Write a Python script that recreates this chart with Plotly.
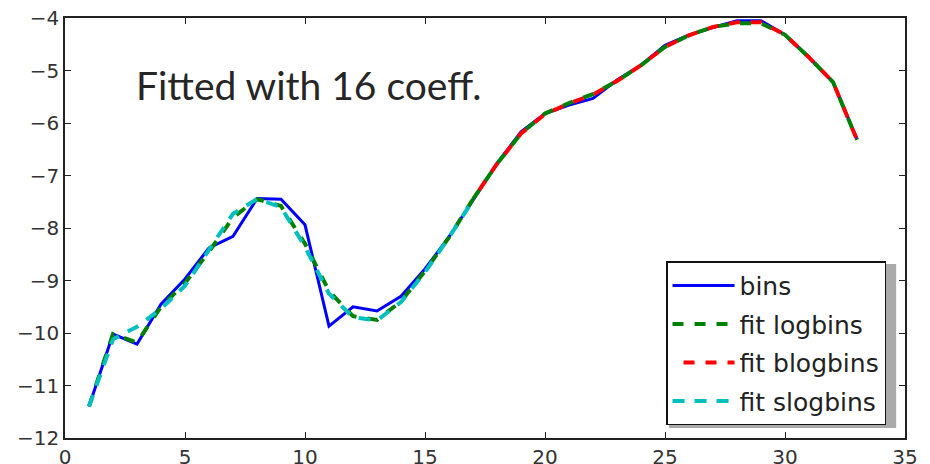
import plotly.graph_objects as go

x_bins = list(range(1, 34))
bins = [-11.40, -10.02, -10.21, -9.45, -8.97, -8.38, -8.16, -7.44, -7.45, -7.94,
        -9.87, -9.50, -9.58, -9.30, -8.78, -8.17, -7.47, -6.77, -6.17, -5.82,
        -5.66, -5.53, -5.18, -4.90, -4.52, -4.32, -4.18, -4.05, -4.05, -4.32,
        -4.75, -5.22, -6.31]

x_log = list(range(1, 34))
fit_logbins = [-11.40, -10.02, -10.18, -9.50, -9.05, -8.45, -7.80, -7.45, -7.58, -8.30,
               -9.20, -9.68, -9.75, -9.40, -8.82, -8.18, -7.45, -6.78, -6.20, -5.82,
               -5.62, -5.45, -5.20, -4.90, -4.55, -4.33, -4.17, -4.10, -4.10, -4.32,
               -4.75, -5.22, -6.32]

x_blog = list(range(17, 34))
fit_blogbins = [-7.45, -6.78, -6.20, -5.83, -5.63, -5.46, -5.20, -4.90, -4.55, -4.33,
                -4.17, -4.08, -4.08, -4.32, -4.75, -5.22, -6.32]

x_slog = list(range(1, 18))
fit_slogbins = [-11.40, -10.12, -9.88, -9.54, -9.10, -8.43, -7.73, -7.45, -7.60, -8.36,
                -9.25, -9.70, -9.76, -9.41, -8.84, -8.18, -7.47]

x_ticks = [0, 5, 10, 15, 20, 25, 30, 35]
y_ticks = [-12, -11, -10, -9, -8, -7, -6, -5, -4]
y_ticktext = ["\u2212" + str(abs(v)) for v in y_ticks]

split = x_log.index(x_blog[0])

fig = go.Figure()
fig.add_trace(go.Scatter(x=x_bins, y=bins, mode="lines", name="bins",
                         line=dict(color="#0000ff", width=3), legendgroup="a"))
fig.add_trace(go.Scatter(x=x_log[:split + 1], y=fit_logbins[:split + 1], mode="lines",
                         name="fit logbins",
                         line=dict(color="#008000", width=4, dash="11px,11px"), legendgroup="b"))
fig.add_trace(go.Scatter(x=x_log[split:], y=fit_logbins[split:], mode="lines",
                         name="fit logbins", showlegend=False,
                         line=dict(color="#008000", width=4, dash="11px,11px"), legendgroup="b"))
fig.add_trace(go.Scatter(x=x_blog, y=fit_blogbins, mode="lines", name="fit blogbins",
                         line=dict(color="#ff0000", width=4, dash="0px,11px,11px,0px"),
                         legendgroup="c"))
fig.add_trace(go.Scatter(x=x_slog, y=fit_slogbins, mode="lines", name="fit slogbins",
                         line=dict(color="#00bfbf", width=4, dash="12px,10px"), legendgroup="d"))

axis_common = dict(showgrid=False, zeroline=False, showline=True, linecolor="#222",
                   linewidth=1.5, mirror="ticks", ticks="inside", ticklen=6,
                   tickcolor="#222", tickwidth=1, automargin=False,
                   ticklabeloverflow="allow",
                   tickfont=dict(family="DejaVu Sans", size=20, color="#333"))

fig.update_xaxes(range=[0, 35], tickvals=x_ticks, **axis_common)
fig.update_yaxes(range=[-12, -4], tickvals=y_ticks, ticktext=y_ticktext, **axis_common)

fig.add_shape(type="rect", xref="paper", yref="paper",
              x0=0.719, x1=0.9895, y0=0.024, y1=0.414,
              fillcolor="#aaaaaa", line=dict(width=0), layer="below")

fig.add_annotation(text="Fitted with 16 coeff.", xref="paper", yref="paper",
                   x=0.082, y=0.8405, xanchor="left", yanchor="middle", showarrow=False,
                   font=dict(family="Lato", size=39, color="#262626"))

# the page places the figure 8px from the top-left corner, so it is drawn 8px smaller
fig.update_layout(
    width=922, height=456,
    margin=dict(l=57, r=25, t=10, b=26),
    paper_bgcolor="white", plot_bgcolor="white",
    showlegend=True,
    legend=dict(x=0.7155, y=0.421, xanchor="left", yanchor="top",
                bordercolor="#111", borderwidth=1.5, bgcolor="white",
                font=dict(family="DejaVu Sans", size=25, color="#222"),
                tracegroupgap=3, traceorder="grouped", itemwidth=62),
)

fig.write_html("out.html")
